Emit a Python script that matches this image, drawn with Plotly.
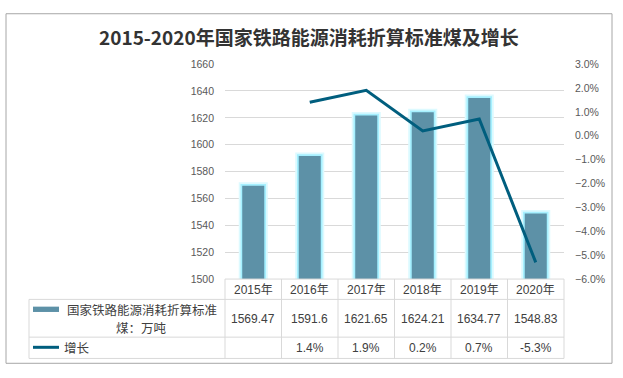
import plotly.graph_objects as go

# ---- data ----
years = ["2015年", "2016年", "2017年", "2018年", "2019年", "2020年"]
coal = [1569.47, 1591.6, 1621.65, 1624.21, 1634.77, 1548.83]
coal_labels = ["1569.47", "1591.6", "1621.65", "1624.21", "1634.77", "1548.83"]
growth = [None, 1.4, 1.9, 0.2, 0.7, -5.3]
growth_labels = ["", "1.4%", "1.9%", "0.2%", "0.7%", "-5.3%"]
series_bar_lines = ["国家铁路能源消耗折算标准", "煤：万吨"]
series_line = "增长"
title = "2015-2020年国家铁路能源消耗折算标准煤及增长"

W, H = 623, 378
PL, PR, PT, PB = 225, 564, 60, 282  # plot area in px


def px(x):
    return x / W


def py(y):
    return 1 - y / H


BAR_C = "#5D91A7"
LINE_C = "#005E7E"
GRID_C = "#D9D9D9"
TXT_C = "#404040"
AX_C = "#595959"
NUM_FONT = "Liberation Sans, Arial, Noto Sans CJK SC, sans-serif"
CJK_FONT = "Noto Sans CJK SC, Liberation Sans, sans-serif"
BW = 0.39

fig = go.Figure()
# glow layers
fig.add_trace(go.Bar(
    x=years, y=coal, width=BW,
    marker=dict(color="#DDFAFF", line=dict(color="#DDFAFF", width=7)),
    yaxis="y", showlegend=False, hoverinfo="skip",
))
fig.add_trace(go.Bar(
    x=years, y=coal, width=BW,
    marker=dict(color="#A6F0FF", line=dict(color="#A6F0FF", width=3.5)),
    yaxis="y", showlegend=False, hoverinfo="skip",
))
fig.add_trace(go.Bar(
    x=years, y=coal, width=BW,
    marker=dict(color=BAR_C, line=dict(width=0)),
    yaxis="y", showlegend=False, hoverinfo="skip",
))
fig.add_trace(go.Scatter(
    x=years, y=growth, mode="lines", yaxis="y2",
    line=dict(color=LINE_C, width=3), connectgaps=False,
    showlegend=False, hoverinfo="skip",
))

shapes = []
# outer border
shapes.append(dict(type="rect", xref="paper", yref="paper",
                   x0=px(6), x1=px(612), y0=py(369), y1=py(8),
                   line=dict(color="#A6A6A6", width=1), layer="below"))
# table lines
tl = dict(color=GRID_C, width=1)
colw = (PR - PL) / len(years)
shapes.append(dict(type="line", xref="paper", yref="paper",
                   x0=px(PL), x1=px(PR), y0=py(PB), y1=py(PB), line=tl))
for yy in (303, 342, 364):
    shapes.append(dict(type="line", xref="paper", yref="paper",
                       x0=px(29), x1=px(PR), y0=py(yy), y1=py(yy), line=tl))
shapes.append(dict(type="line", xref="paper", yref="paper",
                   x0=px(29), x1=px(29), y0=py(303), y1=py(364), line=tl))
for i in range(len(years) + 1):
    xx = PL + i * colw
    shapes.append(dict(type="line", xref="paper", yref="paper",
                       x0=px(xx), x1=px(xx), y0=py(PB), y1=py(364), line=tl))
# legend swatches
shapes.append(dict(type="rect", xref="paper", yref="paper",
                   x0=px(33), x1=px(59), y0=py(316), y1=py(310.5),
                   fillcolor=BAR_C, line=dict(width=0)))
shapes.append(dict(type="line", xref="paper", yref="paper",
                   x0=px(33), x1=px(59), y0=py(352.5), y1=py(352.5),
                   line=dict(color=LINE_C, width=3)))

ann = []
ann.append(dict(text="<b>" + title + "</b>", xref="paper", yref="paper",
                x=px(308.5), y=py(31), xanchor="center", yanchor="middle",
                showarrow=False, font=dict(family=CJK_FONT, size=19, color="#333333")))
for i, yr in enumerate(years):
    ann.append(dict(text=yr, xref="x", yref="paper", x=yr, y=py(293.5),
                    xanchor="center", yanchor="middle", showarrow=False,
                    font=dict(family=NUM_FONT, size=12, color=TXT_C)))
    ann.append(dict(text=coal_labels[i], xref="x", yref="paper", x=yr, y=py(323),
                    xanchor="center", yanchor="middle", showarrow=False,
                    font=dict(family=NUM_FONT, size=12, color=TXT_C)))
    if growth_labels[i]:
        ann.append(dict(text=growth_labels[i], xref="x", yref="paper", x=yr, y=py(353.5),
                        xanchor="center", yanchor="middle", showarrow=False,
                        font=dict(family=NUM_FONT, size=12, color=TXT_C)))
ann.append(dict(text=series_bar_lines[0], xref="paper", yref="paper", x=px(141.5), y=py(313),
                xanchor="center", yanchor="middle", showarrow=False,
                font=dict(family=CJK_FONT, size=12.5, color=TXT_C)))
ann.append(dict(text=series_bar_lines[1], xref="paper", yref="paper", x=px(141.5), y=py(332),
                xanchor="center", yanchor="middle", showarrow=False,
                font=dict(family=CJK_FONT, size=12.5, color=TXT_C)))
ann.append(dict(text=series_line, xref="paper", yref="paper", x=px(62), y=py(352.5),
                xanchor="left", yanchor="middle", showarrow=False,
                font=dict(family=CJK_FONT, size=12.5, color=TXT_C)))

fig.update_layout(
    width=W, height=H,
    margin=dict(l=0, r=0, t=0, b=0),
    paper_bgcolor="white", plot_bgcolor="white",
    showlegend=False,
    barmode="overlay",
    xaxis=dict(domain=[px(PL), px(PR)], showticklabels=False, showgrid=False,
               showline=False, zeroline=False, ticks="", fixedrange=True),
    yaxis=dict(domain=[py(PB), py(PT)], range=[1500, 1660], dtick=20,
               showgrid=True, gridcolor=GRID_C, gridwidth=1, zeroline=False,
               showline=False, ticks="", ticklabelstandoff=10,
               tickfont=dict(family=NUM_FONT, size=10.5, color=AX_C)),
    yaxis2=dict(overlaying="y", side="right", range=[-6, 3], dtick=1,
                tickformat=".1f", ticksuffix="%", showgrid=False, zeroline=False,
                showline=False, ticks="", ticklabelstandoff=10,
                tickfont=dict(family=NUM_FONT, size=10.5, color=AX_C)),
    shapes=shapes, annotations=ann,
)

fig.write_html("out.html",
               config={"displayModeBar": False, "staticPlot": True},
               post_script="document.body.style.margin='0';document.body.style.overflow='hidden';")
